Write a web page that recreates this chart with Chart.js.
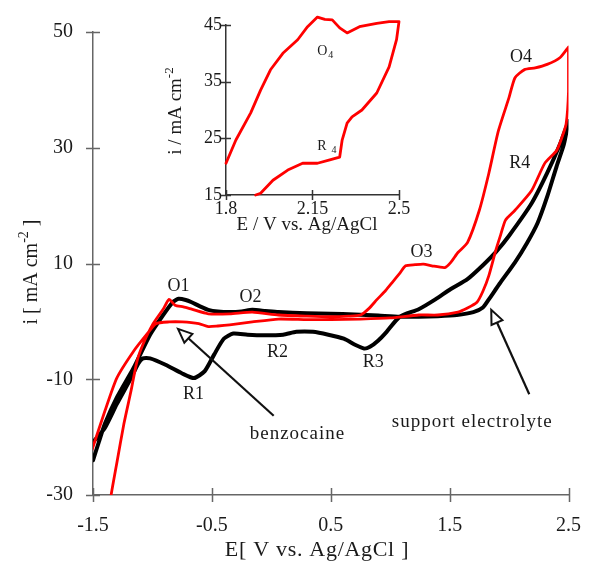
<!DOCTYPE html>
<html>
<head>
<meta charset="utf-8">
<script src="https://cdn.jsdelivr.net/npm/chart.js@4.4.1/dist/chart.umd.min.js"></script>
<style>
  html, body { margin: 0; padding: 0; background: #fff; }
  #wrap { position: relative; width: 600px; height: 565px; }
  #main { position: absolute; left: 0; top: 0; }
  #inset { position: absolute; left: 140px; top: 0; }
</style>
</head>
<body>
<div id="wrap">
  <canvas id="main" width="600" height="565"></canvas>
  <canvas id="inset" width="280" height="245"></canvas>
</div>
<script>
// ---- cyclic voltammograms: potential E (V vs. Ag/AgCl), current density i (mA cm^-2) ----

// red scan, anodic sweep then cathodic return
const redFwdE = [-1.37, -1.35, -1.30, -1.24, -1.18, -1.13, -1.08, -1.00, -0.91, -0.86, -0.81, -0.74, -0.67, -0.53, -0.35, -0.16, 0.06, 0.30, 0.50, 0.65, 0.75, 0.82, 0.89, 0.96, 1.02, 1.08, 1.13, 1.21, 1.28, 1.35, 1.46, 1.51, 1.57, 1.65, 1.75, 1.83, 1.91, 2.00, 2.05, 2.13, 2.22, 2.32, 2.43, 2.50];
const redFwdI = [-34, -30.3, -24.5, -17.7, -12.0, -6.9, -4.0, -0.6, 2.1, 3.8, 2.8, 2.5, 2.1, 1.3, 1.3, 1.6, 1.1, 0.9, 0.8, 0.9, 1.1, 2.2, 3.8, 5.3, 6.8, 8.3, 9.6, 9.8, 9.9, 9.6, 9.3, 10.2, 11.9, 13.6, 19.2, 25.6, 32.9, 38.7, 42.1, 43.5, 43.8, 44.4, 45.6, 47.4];
const redRevE = [2.50, 2.50, 2.48, 2.44, 2.40, 2.30, 2.19, 2.05, 1.97, 1.93, 1.89, 1.83, 1.78, 1.73, 1.65, 1.57, 1.40, 1.24, 1.00, 0.75, 0.50, 0.30, 0.06, -0.16, -0.35, -0.45, -0.53, -0.61, -0.75, -0.86, -0.97, -1.05, -1.16, -1.30, -1.40, -1.51];
const redRevI = [47.4, 39.7, 34.1, 31.5, 29.5, 27.3, 22.6, 19.2, 17.5, 15.0, 12.4, 7.9, 5.2, 3.3, 2.3, 1.6, 1.1, 1.1, 0.6, 0.4, 0.3, 0.3, 0.4, -0.1, -0.6, -0.8, -0.9, -0.4, -0.1, -0.1, -0.4, -2.3, -5.2, -9.8, -15.5, -22.3];

// black scan, anodic sweep then cathodic return
const blackFwdE = [-1.50, -1.45, -1.40, -1.30, -1.16, -1.02, -0.91, -0.83, -0.78, -0.72, -0.67, -0.60, -0.53, -0.45, -0.35, -0.25, -0.16, -0.05, 0.06, 0.30, 0.50, 0.70, 0.90, 1.08, 1.24, 1.40, 1.56, 1.70, 1.78, 1.83, 1.92, 2.05, 2.15, 2.24, 2.32, 2.40, 2.46, 2.50];
const blackFwdI = [-24.0, -20.8, -17.7, -13.2, -8.1, -2.3, 1.1, 3.3, 3.9, 3.7, 3.3, 2.6, 2.0, 1.7, 1.6, 1.7, 2.0, 1.8, 1.6, 1.4, 1.3, 1.2, 1.0, 0.8, 0.8, 0.9, 1.1, 1.6, 2.4, 3.8, 6.5, 10.2, 13.5, 17.0, 21.5, 26.8, 30.5, 34.6];
const blackRevE = [2.50, 2.43, 2.32, 2.19, 2.00, 1.89, 1.78, 1.65, 1.51, 1.38, 1.24, 1.08, 0.97, 0.90, 0.83, 0.78, 0.70, 0.61, 0.48, 0.35, 0.21, 0.10, -0.06, -0.20, -0.32, -0.40, -0.48, -0.56, -0.65, -0.75, -0.89, -1.02, -1.08, -1.12, -1.18, -1.30, -1.40, -1.51];
const blackRevI = [34.6, 30.7, 25.6, 20.4, 14.8, 12.0, 9.7, 7.3, 5.6, 3.8, 2.1, 0.8, -1.8, -3.3, -4.4, -4.7, -4.0, -3.0, -2.3, -1.8, -1.8, -2.3, -2.4, -2.3, -2.1, -3.0, -5.7, -8.6, -9.8, -9.0, -7.5, -6.4, -6.4, -7.3, -9.8, -14.3, -18.4, -21.1];

// inset: red scan between 1.8 and 2.5 V
const insetFwdE = [1.80, 1.84, 1.90, 1.94, 1.98, 2.03, 2.09, 2.13, 2.17, 2.20, 2.23, 2.26, 2.29, 2.34, 2.41, 2.46, 2.50];
const insetFwdI = [20.6, 24.7, 29.5, 33.5, 37.1, 40.0, 42.4, 44.7, 46.4, 46.0, 45.9, 44.5, 43.6, 44.7, 45.3, 45.6, 45.6];
const insetRevE = [2.50, 2.49, 2.46, 2.41, 2.35, 2.31, 2.29, 2.27, 2.26, 2.22, 2.17, 2.11, 2.05, 1.99, 1.94, 1.92];
const insetRevI = [45.6, 42.4, 37.6, 33.0, 30.0, 28.8, 27.7, 24.7, 21.7, 21.2, 20.6, 20.6, 19.4, 17.6, 15.3, 15.0];

// tick values
const mainTicksE = [-1.5, -0.5, 0.5, 1.5, 2.5];
const mainTicksI = [-30, -10, 10, 30, 50];
const insetTicksE = [1.8, 2.15, 2.5];
const insetTicksI = [15, 25, 35, 45];

// peak labels (placed in data coordinates)
const peakNames = ['O1', 'O2', 'R1', 'R2', 'R3', 'O3', 'O4', 'R4'];
const peakE = [-0.78, -0.175, -0.655, 0.053, 0.858, 1.264, 2.10, 2.09];
const peakI = [6.1, 4.2, -12.6, -5.4, -7.1, 11.9, 45.6, 27.4];

// arrow captions
const captionText = ['benzocaine', 'support electrolyte'];
const captionE = [0.22, 1.69];
const captionI = [-20.3, -18.3];
const arrowTailE = [0.02, 2.17];
const arrowTailI = [-16.3, -12.6];
const arrowTipE = [-0.785, 1.85];
const arrowTipI = [-1.3, 2.0];

// inset peak labels (letter + subscript)
const insetNoteMain = ['O', 'R'];
const insetNoteSub = ['4', '4'];
const insetNoteE = [2.169, 2.169];
const insetNoteI = [39.7, 22.9];

const SERIF = '"Liberation Serif", "Times New Roman", serif';
const pts = (E, I) => E.map((e, k) => ({ x: e, y: I[k] }));

// tick marks that cross the axis line on both sides
const crossTicks = {
  id: 'crossTicks',
  afterDraw(chart, args, opts) {
    const { ctx, chartArea } = chart;
    const xs = chart.scales.x, ys = chart.scales.y;
    const h = opts.half;
    ctx.save();
    ctx.strokeStyle = opts.color;
    ctx.lineWidth = opts.width;
    ctx.beginPath();
    xs.ticks.forEach(t => {
      const px = Math.round(xs.getPixelForValue(t.value)) + 0.5;
      ctx.moveTo(px, chartArea.bottom - h);
      ctx.lineTo(px, chartArea.bottom + h);
    });
    ys.ticks.forEach(t => {
      const py = Math.round(ys.getPixelForValue(t.value)) + 0.5;
      ctx.moveTo(chartArea.left - h, py);
      ctx.lineTo(chartArea.left + h, py);
    });
    ctx.stroke();
    ctx.restore();
  }
};

// text made of runs with optional superscript/subscript shift, centred on (cx, cy)
function drawRich(ctx, parts, cx, cy, angle, spacing) {
  ctx.save();
  ctx.translate(cx, cy);
  ctx.rotate(angle);
  ctx.textAlign = 'left';
  ctx.textBaseline = 'alphabetic';
  ctx.fillStyle = '#1a1a1a';
  ctx.letterSpacing = (spacing || 0) + 'px';
  let total = 0;
  parts.forEach(p => {
    ctx.font = p.size + 'px ' + SERIF;
    p.w = ctx.measureText(p.t).width;
    total += p.w;
  });
  let x = -total / 2;
  parts.forEach(p => {
    ctx.font = p.size + 'px ' + SERIF;
    ctx.fillText(p.t, x, -(p.rise || 0));
    x += p.w;
  });
  ctx.restore();
}

function drawArrow(ctx, x0, y0, x1, y1) {
  const ang = Math.atan2(y1 - y0, x1 - x0);
  const len = 14, half = 6;
  const bx = x1 - len * Math.cos(ang), by = y1 - len * Math.sin(ang);
  ctx.save();
  ctx.strokeStyle = '#111';
  ctx.lineWidth = 2.2;
  ctx.beginPath();
  ctx.moveTo(x0, y0);
  ctx.lineTo(bx, by);
  ctx.stroke();
  ctx.beginPath();
  ctx.moveTo(x1, y1);
  ctx.lineTo(bx + half * Math.sin(ang), by - half * Math.cos(ang));
  ctx.lineTo(bx - half * Math.sin(ang), by + half * Math.cos(ang));
  ctx.closePath();
  ctx.fillStyle = '#fff';
  ctx.fill();
  ctx.lineWidth = 2;
  ctx.lineJoin = 'miter';
  ctx.stroke();
  ctx.restore();
}

const mainNotes = {
  id: 'mainNotes',
  afterDraw(chart) {
    const { ctx } = chart;
    const xs = chart.scales.x, ys = chart.scales.y;
    // peak labels
    ctx.save();
    ctx.fillStyle = '#1a1a1a';
    ctx.font = '18px ' + SERIF;
    ctx.textAlign = 'center';
    ctx.textBaseline = 'middle';
    peakNames.forEach((n, k) => {
      ctx.fillText(n, xs.getPixelForValue(peakE[k]), ys.getPixelForValue(peakI[k]));
    });
    ctx.restore();
    // arrows and their captions
    captionText.forEach((c, k) => {
      drawArrow(ctx,
        xs.getPixelForValue(arrowTailE[k]), ys.getPixelForValue(arrowTailI[k]),
        xs.getPixelForValue(arrowTipE[k]), ys.getPixelForValue(arrowTipI[k]));
      drawRich(ctx, [{ t: c, size: 19 }], xs.getPixelForValue(captionE[k]), ys.getPixelForValue(captionI[k]), 0, 1);
    });
    // axis titles
    drawRich(ctx, [{ t: 'E[ V vs. Ag/AgCl ]', size: 22 }], 317, 556, 0, 0.7);
    drawRich(ctx, [
      { t: 'i [ mA cm', size: 20 },
      { t: '-2', size: 14, rise: 9 },
      { t: ' ]', size: 20 }
    ], 37, 272, -Math.PI / 2, 0);
  }
};

const insetNotes = {
  id: 'insetNotes',
  afterDraw(chart) {
    const { ctx } = chart;
    const xs = chart.scales.x, ys = chart.scales.y;
    ctx.save();
    ctx.fillStyle = '#1a1a1a';
    ctx.textAlign = 'left';
    ctx.textBaseline = 'alphabetic';
    insetNoteMain.forEach((m, k) => {
      const px = xs.getPixelForValue(insetNoteE[k]);
      const py = ys.getPixelForValue(insetNoteI[k]);
      ctx.font = '14px ' + SERIF;
      const w = ctx.measureText(m).width;
      ctx.fillText(m, px, py);
      ctx.font = '10px ' + SERIF;
      ctx.fillText(insetNoteSub[k], px + w + (m === 'R' ? 5 : 1), py + 3);
    });
    ctx.restore();
    drawRich(ctx, [{ t: 'E / V vs. Ag/AgCl', size: 19 }], 167, 230, 0, 0);
    drawRich(ctx, [
      { t: 'i / mA cm', size: 19 },
      { t: '-2', size: 13, rise: 8 }
    ], 41, 111, -Math.PI / 2, 0);
  }
};

const lineStyle = (color, width, tension) => ({
  borderColor: color,
  backgroundColor: color,
  borderWidth: width,
  showLine: true,
  pointRadius: 0,
  pointHoverRadius: 0,
  tension: tension,
  borderJoinStyle: 'round',
  borderCapStyle: 'round',
  fill: false
});

new Chart(document.getElementById('main'), {
  type: 'scatter',
  data: {
    datasets: [
      Object.assign({ label: 'benzocaine', data: pts(redFwdE.concat(redRevE), redFwdI.concat(redRevI)) }, lineStyle('#ff0000', 2.8, 0.2)),
      Object.assign({ label: 'support electrolyte', data: pts(blackFwdE.concat(blackRevE), blackFwdI.concat(blackRevI)) }, lineStyle('#000000', 4, 0.2))
    ]
  },
  options: {
    responsive: false,
    animation: false,
    devicePixelRatio: 1,
    layout: { padding: { top: 27, right: 15, left: 0, bottom: 0 } },
    plugins: {
      legend: { display: false },
      tooltip: { enabled: false },
      crossTicks: { half: 7, color: '#666', width: 1.5 }
    },
    scales: {
      x: {
        type: 'linear',
        min: -1.5, max: 2.5,
        afterBuildTicks: s => { s.ticks = mainTicksE.map(v => ({ value: v })); },
        afterFit: s => { s.height = 70; },
        grid: { display: false, drawTicks: false },
        border: { display: true, color: '#666', width: 1.5 },
        ticks: { padding: 19, color: '#1a1a1a', font: { family: SERIF, size: 20 }, callback: v => String(v), maxRotation: 0, autoSkip: false }
      },
      y: {
        type: 'linear',
        min: -30, max: 50,
        afterBuildTicks: s => { s.ticks = mainTicksI.map(v => ({ value: v })); },
        afterFit: s => { s.width = 93; },
        grid: { display: false, drawTicks: false },
        border: { display: true, color: '#666', width: 1.5 },
        ticks: { padding: 20, color: '#1a1a1a', font: { family: SERIF, size: 20 }, callback: v => String(v), autoSkip: false }
      }
    }
  },
  plugins: [crossTicks, mainNotes]
});

new Chart(document.getElementById('inset'), {
  type: 'scatter',
  data: {
    datasets: [
      Object.assign({ label: 'inset', data: pts(insetFwdE.concat(insetRevE), insetFwdI.concat(insetRevI)), clip: false }, lineStyle('#ff0000', 2.8, 0))
    ]
  },
  options: {
    responsive: false,
    animation: false,
    devicePixelRatio: 1,
    layout: { padding: { top: 25, right: 21, left: 0, bottom: 0 } },
    plugins: {
      legend: { display: false },
      tooltip: { enabled: false },
      crossTicks: { half: 5, color: '#333', width: 1.5 }
    },
    scales: {
      x: {
        type: 'linear',
        min: 1.8, max: 2.5,
        afterBuildTicks: s => { s.ticks = insetTicksE.map(v => ({ value: v })); },
        afterFit: s => { s.height = 50; },
        grid: { display: false, drawTicks: false },
        border: { display: true, color: '#333', width: 1.5 },
        ticks: { padding: 3, color: '#1a1a1a', font: { family: SERIF, size: 18 }, callback: v => String(v), maxRotation: 0, autoSkip: false }
      },
      y: {
        type: 'linear',
        min: 15, max: 45,
        afterBuildTicks: s => { s.ticks = insetTicksI.map(v => ({ value: v })); },
        afterFit: s => { s.width = 86; },
        grid: { display: false, drawTicks: false },
        border: { display: true, color: '#333', width: 1.5 },
        ticks: { padding: 4, color: '#1a1a1a', font: { family: SERIF, size: 18 }, callback: v => String(v), autoSkip: false }
      }
    }
  },
  plugins: [crossTicks, insetNotes]
});
</script>
</body>
</html>
